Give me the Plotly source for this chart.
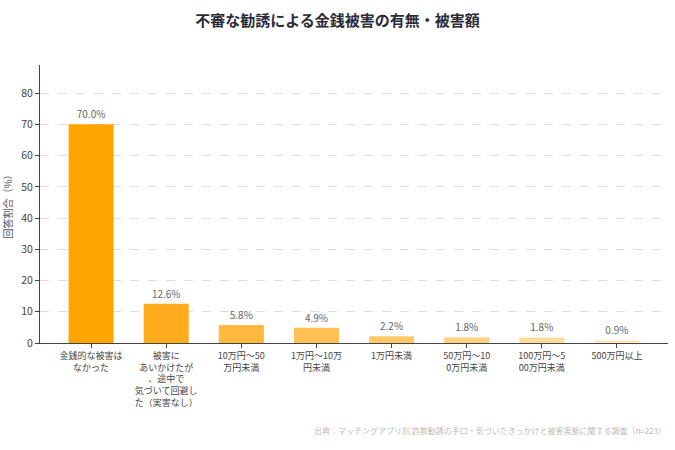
import plotly.graph_objects as go

categories = [
    "金銭的な被害は<br>なかった",
    "被害に<br>あいかけたが<br>、途中で<br>気づいて回避し<br>た（実害なし）",
    "10万円～50<br>万円未満",
    "1万円～10万<br>円未満",
    "1万円未満",
    "50万円～10<br>0万円未満",
    "100万円～5<br>00万円未満",
    "500万円以上",
]
values = [70.0, 12.6, 5.8, 4.9, 2.2, 1.8, 1.8, 0.9]
colors = ["#FFA500", "#FFAD1F", "#FFB940", "#FFC055", "#FFC866", "#FFD080", "#FFDC9E", "#FFE8BF"]
labels = [f"{v:.1f}%" for v in values]

FONT = "Noto Sans CJK JP"

fig = go.Figure(go.Bar(
    x=list(range(len(categories))), y=values,
    marker=dict(color=colors, line=dict(width=0)),
    width=0.6,
    text=labels, textposition="outside", cliponaxis=False,
    textfont=dict(size=10, color="#666666", family=FONT),
))

fig.update_layout(
    width=675, height=450,
    margin=dict(l=40, r=7, t=65, b=107),
    paper_bgcolor="white", plot_bgcolor="white",
    font=dict(family=FONT, color="#444444"),
    showlegend=False,
    title=dict(text="<b>不審な勧誘による金銭被害の有無・被害額</b>", x=0.5, xanchor="center",
               y=0.955, yanchor="middle", font=dict(size=15, color="#2b2b3a", family=FONT)),
    xaxis=dict(
        tickmode="array", tickvals=list(range(len(categories))), ticktext=categories,
        range=[-0.68, 7.68], showline=True, linecolor="#444444", linewidth=1.2,
        ticks="outside", ticklen=4, tickcolor="#444444", showgrid=False,
        tickfont=dict(size=9, color="#444444"), tickangle=0,
    ),
    yaxis=dict(
        range=[0, 89], tickvals=[0, 10, 20, 30, 40, 50, 60, 70, 80],
        showline=True, linecolor="#444444", linewidth=1.2,
        ticks="outside", ticklen=4, tickcolor="#444444",
        showgrid=True, gridcolor="#dddddd", griddash="dash", gridwidth=1,
        tickfont=dict(size=10.5, color="#444444"), zeroline=False,
        title=dict(text="回答割合（%）", font=dict(size=10, color="#555555"), standoff=8),
    ),
)

fig.add_annotation(
    text="出典：マッチングアプリ別 詐欺勧誘の手口・気づいたきっかけと被害実態に関する調査（n=223）",
    xref="paper", yref="paper", x=1.0, y=-0.315, xanchor="right", yanchor="middle",
    showarrow=False, font=dict(size=8, color="#bbbbbb", family=FONT),
)

fig.write_html("out.html")
